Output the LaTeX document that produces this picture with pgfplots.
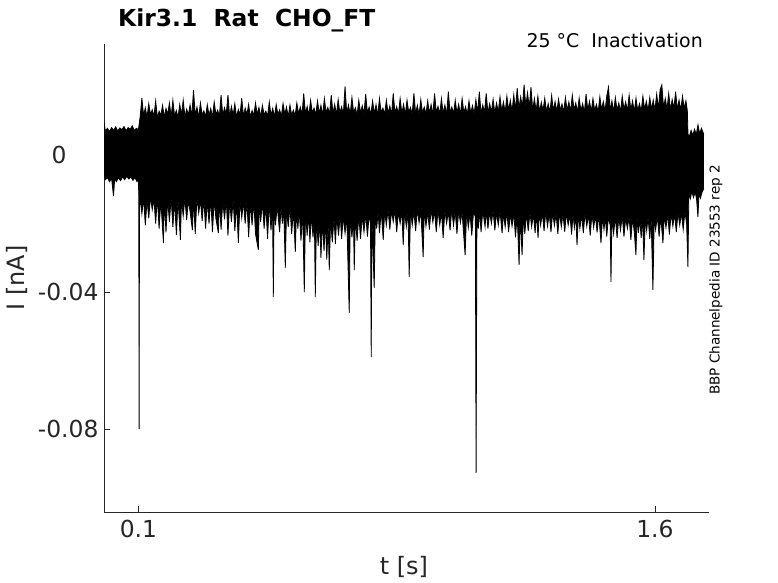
\documentclass[border=0pt]{standalone}
\usepackage{fontspec}
\setmainfont{DejaVu Sans}
\usepackage{pgfplots}
\pgfplotsset{compat=1.18}
\usepgfplotslibrary{fillbetween}
\definecolor{axgray}{HTML}{262626}
\begin{document}
\begin{tikzpicture}
\begin{axis}[
  at={(104bp,71bp)}, anchor=south west, scale only axis,
  width=605bp, height=468bp,
  xmin=0, xmax=1.757, ymin=-0.1042, ymax=0.0324,
  axis x line*=bottom, axis y line*=left,
  axis line style={axgray, line width=0.6bp},
  tick align=inside, major tick length=6bp,
  tick style={axgray, line width=0.6bp},
  xtick={0.1,1.6}, xticklabels={0.1,1.6},
  ytick={-0.08,-0.04,0}, yticklabels={-0.08,-0.04,{0\makebox[32bp]{}}},
  ticklabel style={font=\fontsize{23.5}{28}\selectfont, text=axgray},
  xticklabel style={yshift=-5bp},
  yticklabel style={xshift=-2bp},
]
\addplot[name path=up, black, line width=0.8bp] coordinates {
(0.000,0.0095)(0.004,0.0070)(0.010,0.0078)(0.016,0.0068)(0.022,0.0080)(0.028,0.0072)(0.034,0.0082)(0.040,0.0070)(0.046,0.0079)(0.052,0.0074)(0.058,0.0083)(0.064,0.0071)(0.070,0.0080)(0.076,0.0075)(0.082,0.0085)(0.088,0.0072)(0.094,0.0078)(0.100,0.0074)
(0.105,0.0112)(0.110,0.0166)(0.115,0.0115)(0.120,0.0138)(0.125,0.0110)(0.130,0.0150)(0.135,0.0118)(0.140,0.0132)(0.145,0.0113)(0.150,0.0158)
(0.155,0.0109)(0.160,0.0128)(0.165,0.0116)(0.170,0.0145)(0.175,0.0111)(0.180,0.0136)(0.185,0.0119)(0.190,0.0152)(0.195,0.0112)(0.200,0.0160)
(0.205,0.0114)(0.210,0.0130)(0.215,0.0110)(0.220,0.0148)(0.225,0.0117)(0.230,0.0160)(0.235,0.0112)(0.240,0.0134)(0.245,0.0118)(0.250,0.0146)
(0.255,0.0113)(0.260,0.0190)(0.265,0.0115)(0.270,0.0140)(0.275,0.0110)(0.280,0.0152)(0.285,0.0117)(0.290,0.0129)(0.295,0.0112)(0.300,0.0147)
(0.305,0.0116)(0.310,0.0136)(0.315,0.0111)(0.320,0.0155)(0.325,0.0118)(0.330,0.0131)(0.335,0.0113)(0.340,0.0175)(0.345,0.0115)(0.350,0.0138)
(0.355,0.0119)(0.360,0.0175)(0.365,0.0112)(0.370,0.0142)(0.375,0.0116)(0.380,0.0150)(0.385,0.0110)(0.390,0.0133)(0.395,0.0117)(0.400,0.0166)
(0.405,0.0113)(0.410,0.0137)(0.415,0.0118)(0.420,0.0148)(0.425,0.0111)(0.430,0.0130)(0.435,0.0115)(0.440,0.0152)(0.445,0.0119)(0.450,0.0139)
(0.455,0.0112)(0.460,0.0145)(0.465,0.0117)(0.470,0.0128)(0.475,0.0113)(0.480,0.0155)(0.485,0.0116)(0.490,0.0136)(0.495,0.0111)(0.500,0.0147)
(0.505,0.0118)(0.510,0.0132)(0.515,0.0114)(0.520,0.0150)(0.525,0.0119)(0.530,0.0140)(0.535,0.0112)(0.540,0.0146)(0.545,0.0117)(0.550,0.0131)
(0.555,0.0115)(0.560,0.0152)(0.565,0.0120)(0.570,0.0140)(0.575,0.0118)(0.580,0.0180)(0.585,0.0121)(0.590,0.0142)(0.595,0.0116)(0.600,0.0160)
(0.605,0.0123)(0.610,0.0137)(0.615,0.0118)(0.620,0.0158)(0.625,0.0122)(0.630,0.0145)(0.635,0.0116)(0.640,0.0165)(0.645,0.0124)(0.650,0.0139)
(0.655,0.0119)(0.660,0.0175)(0.665,0.0121)(0.670,0.0148)(0.675,0.0117)(0.680,0.0162)(0.685,0.0123)(0.690,0.0141)(0.695,0.0118)(0.700,0.0200)
(0.705,0.0122)(0.710,0.0146)(0.715,0.0119)(0.720,0.0168)(0.725,0.0124)(0.730,0.0138)(0.735,0.0117)(0.740,0.0160)(0.745,0.0122)(0.750,0.0144)
(0.755,0.0120)(0.760,0.0178)(0.765,0.0123)(0.770,0.0140)(0.775,0.0118)(0.780,0.0158)(0.785,0.0121)(0.790,0.0147)(0.795,0.0116)(0.800,0.0165)
(0.805,0.0124)(0.810,0.0137)(0.815,0.0119)(0.820,0.0160)(0.825,0.0122)(0.830,0.0143)(0.835,0.0117)(0.840,0.0180)(0.845,0.0123)(0.850,0.0141)
(0.855,0.0120)(0.860,0.0165)(0.865,0.0122)(0.870,0.0148)(0.875,0.0118)(0.880,0.0160)(0.885,0.0124)(0.890,0.0139)(0.895,0.0119)(0.900,0.0180)
(0.905,0.0121)(0.910,0.0145)(0.915,0.0117)(0.920,0.0162)(0.925,0.0123)(0.930,0.0140)(0.935,0.0120)(0.940,0.0158)(0.945,0.0122)(0.950,0.0147)
(0.955,0.0118)(0.960,0.0180)(0.965,0.0124)(0.970,0.0142)(0.975,0.0119)(0.980,0.0165)(0.985,0.0121)(0.990,0.0146)(0.995,0.0117)(1.000,0.0185)
(1.005,0.0123)(1.010,0.0140)(1.015,0.0120)(1.020,0.0160)(1.025,0.0122)(1.030,0.0148)(1.035,0.0118)(1.040,0.0165)(1.045,0.0124)(1.050,0.0141)
(1.055,0.0119)(1.060,0.0158)(1.065,0.0122)(1.070,0.0144)(1.075,0.0120)(1.080,0.0162)(1.085,0.0123)(1.090,0.0185)(1.095,0.0121)(1.100,0.0146)
(1.105,0.0124)(1.110,0.0180)(1.115,0.0122)(1.120,0.0150)(1.125,0.0125)(1.130,0.0163)(1.135,0.0123)(1.140,0.0152)(1.145,0.0126)(1.150,0.0170)
(1.155,0.0128)(1.160,0.0155)(1.165,0.0124)(1.170,0.0172)(1.175,0.0130)(1.180,0.0160)(1.185,0.0127)(1.190,0.0176)(1.195,0.0133)(1.200,0.0195)
(1.205,0.0136)(1.210,0.0170)(1.215,0.0140)(1.220,0.0205)(1.225,0.0142)(1.230,0.0182)(1.235,0.0138)(1.240,0.0198)(1.245,0.0132)(1.250,0.0165)
(1.255,0.0128)(1.260,0.0172)(1.265,0.0125)(1.270,0.0154)(1.275,0.0130)(1.280,0.0166)(1.285,0.0127)(1.290,0.0150)(1.295,0.0124)(1.300,0.0174)
(1.305,0.0129)(1.310,0.0156)(1.315,0.0126)(1.320,0.0163)(1.325,0.0131)(1.330,0.0149)(1.335,0.0125)(1.340,0.0168)(1.345,0.0130)(1.350,0.0155)
(1.355,0.0127)(1.360,0.0175)(1.365,0.0132)(1.370,0.0152)(1.375,0.0126)(1.380,0.0166)(1.385,0.0129)(1.390,0.0150)(1.395,0.0124)(1.400,0.0178)
(1.405,0.0131)(1.410,0.0157)(1.415,0.0127)(1.420,0.0165)(1.425,0.0130)(1.430,0.0148)(1.435,0.0125)(1.440,0.0170)(1.445,0.0132)(1.450,0.0156)
(1.455,0.0128)(1.460,0.0172)(1.465,0.0198)(1.470,0.0130)(1.475,0.0158)(1.480,0.0126)(1.485,0.0168)(1.490,0.0131)(1.495,0.0152)(1.500,0.0127)
(1.505,0.0172)(1.510,0.0133)(1.515,0.0155)(1.520,0.0128)(1.525,0.0175)(1.530,0.0132)(1.535,0.0158)(1.540,0.0126)(1.545,0.0166)(1.550,0.0130)
(1.555,0.0150)(1.560,0.0127)(1.565,0.0172)(1.570,0.0133)(1.575,0.0157)(1.580,0.0129)(1.585,0.0168)(1.590,0.0134)(1.595,0.0160)(1.600,0.0131)
(1.605,0.0178)(1.610,0.0136)(1.615,0.0190)(1.620,0.0205)(1.625,0.0138)(1.630,0.0165)(1.635,0.0134)(1.640,0.0180)(1.645,0.0132)(1.650,0.0162)
(1.655,0.0135)(1.660,0.0185)(1.665,0.0133)(1.670,0.0160)(1.675,0.0131)(1.680,0.0172)(1.685,0.0136)(1.690,0.0158)(1.694,0.0130)(1.696,0.0060)
(1.700,0.0055)(1.705,0.0072)(1.710,0.0058)(1.715,0.0075)(1.720,0.0060)(1.725,0.0088)(1.730,0.0062)(1.735,0.0078)(1.742,0.0060)
};
\addplot[name path=lo, black, line width=0.8bp] coordinates {
(0.000,-0.0060)(0.004,-0.0072)(0.010,-0.0066)(0.016,-0.0078)(0.022,-0.0068)(0.0276,-0.0120)(0.031,-0.0070)(0.036,-0.0078)(0.042,-0.0066)(0.048,-0.0075)
(0.054,-0.0064)(0.060,-0.0072)(0.066,-0.0062)(0.072,-0.0070)(0.078,-0.0064)(0.084,-0.0074)(0.090,-0.0066)(0.096,-0.0078)(0.100,-0.0070)
(0.1010,-0.0120)(0.1020,-0.0800)(0.1030,-0.0150)
(0.105,-0.0128)(0.110,-0.0172)(0.115,-0.0125)(0.120,-0.0205)(0.125,-0.0131)(0.130,-0.0185)(0.135,-0.0122)(0.140,-0.0160)(0.145,-0.0128)(0.150,-0.0200)
(0.155,-0.0124)(0.160,-0.0215)(0.165,-0.0133)(0.1726,-0.0257)(0.175,-0.0127)(0.180,-0.0226)(0.185,-0.0130)(0.190,-0.0195)(0.195,-0.0125)(0.200,-0.0210)
(0.205,-0.0134)(0.2103,-0.0234)(0.215,-0.0128)(0.2219,-0.0248)(0.225,-0.0131)(0.230,-0.0178)(0.235,-0.0126)(0.240,-0.0190)(0.245,-0.0133)(0.250,-0.0165)
(0.2567,-0.0219)(0.260,-0.0129)(0.265,-0.0230)(0.270,-0.0124)(0.275,-0.0170)(0.280,-0.0132)(0.285,-0.0192)(0.290,-0.0127)(0.295,-0.0215)(0.300,-0.0134)
(0.305,-0.0200)(0.310,-0.0128)(0.315,-0.0225)(0.320,-0.0131)(0.325,-0.0186)(0.3322,-0.0228)(0.335,-0.0130)(0.340,-0.0218)(0.345,-0.0135)(0.350,-0.0188)
(0.355,-0.0129)(0.360,-0.0235)(0.365,-0.0136)(0.370,-0.0195)(0.375,-0.0130)(0.380,-0.0222)(0.385,-0.0138)(0.3902,-0.0257)(0.395,-0.0132)(0.400,-0.0184)
(0.405,-0.0137)(0.410,-0.0200)(0.415,-0.0133)(0.420,-0.0240)(0.425,-0.0140)(0.430,-0.0205)(0.435,-0.0135)(0.440,-0.0230)(0.4482,-0.0277)(0.451,-0.0142)
(0.455,-0.0195)(0.460,-0.0138)(0.465,-0.0215)(0.470,-0.0145)(0.475,-0.0245)(0.480,-0.0140)(0.485,-0.0220)(0.4895,-0.0150)(0.4917,-0.0415)(0.494,-0.0150)
(0.498,-0.0205)(0.503,-0.0148)(0.510,-0.0225)(0.514,-0.0152)(0.518,-0.0200)(0.522,-0.0155)(0.5265,-0.0330)(0.530,-0.0158)(0.535,-0.0210)(0.540,-0.0152)
(0.545,-0.0230)(0.550,-0.0160)(0.5556,-0.0283)(0.559,-0.0158)(0.563,-0.0215)(0.567,-0.0162)(0.572,-0.0250)(0.577,-0.0165)(0.5817,-0.0400)(0.585,-0.0168)
(0.590,-0.0235)(0.594,-0.0170)(0.598,-0.0255)(0.602,-0.0175)(0.607,-0.0240)(0.611,-0.0180)(0.6136,-0.0415)(0.617,-0.0185)(0.622,-0.0265)(0.626,-0.0190)
(0.630,-0.0300)(0.634,-0.0195)(0.639,-0.0280)(0.643,-0.0192)(0.647,-0.0305)(0.651,-0.0200)(0.6542,-0.0336)(0.658,-0.0190)(0.663,-0.0255)(0.668,-0.0182)
(0.672,-0.0260)(0.676,-0.0178)(0.681,-0.0235)(0.686,-0.0175)(0.690,-0.0245)(0.695,-0.0180)(0.700,-0.0228)(0.705,-0.0178)(0.7122,-0.0461)(0.715,-0.0182)
(0.720,-0.0240)(0.7245,-0.0185)(0.7267,-0.0336)(0.730,-0.0180)(0.735,-0.0250)(0.740,-0.0176)(0.745,-0.0245)(0.750,-0.0178)(0.755,-0.0225)(0.760,-0.0172)
(0.765,-0.0238)(0.770,-0.0175)(0.774,-0.0200)(0.7760,-0.0590)(0.778,-0.0185)(0.7847,-0.0388)(0.788,-0.0170)(0.792,-0.0215)(0.796,-0.0165)(0.800,-0.0228)
(0.805,-0.0162)(0.8109,-0.0248)(0.815,-0.0165)(0.820,-0.0205)(0.825,-0.0158)(0.830,-0.0218)(0.835,-0.0163)(0.840,-0.0195)(0.845,-0.0160)(0.850,-0.0225)
(0.855,-0.0166)(0.860,-0.0200)(0.865,-0.0162)(0.8689,-0.0263)(0.873,-0.0164)(0.878,-0.0210)(0.883,-0.0167)(0.8863,-0.0356)(0.890,-0.0160)(0.895,-0.0205)
(0.900,-0.0165)(0.905,-0.0222)(0.910,-0.0158)(0.915,-0.0198)(0.920,-0.0163)(0.9269,-0.0298)(0.930,-0.0161)(0.935,-0.0208)(0.940,-0.0166)(0.945,-0.0218)
(0.950,-0.0159)(0.955,-0.0196)(0.960,-0.0164)(0.965,-0.0225)(0.970,-0.0160)(0.975,-0.0204)(0.980,-0.0167)(0.9849,-0.0242)(0.990,-0.0161)(0.995,-0.0200)
(1.000,-0.0165)(1.005,-0.0220)(1.010,-0.0158)(1.015,-0.0206)(1.020,-0.0164)(1.025,-0.0230)(1.030,-0.0162)(1.035,-0.0198)(1.040,-0.0168)(1.0487,-0.0292)
(1.053,-0.0165)(1.058,-0.0212)(1.063,-0.0170)(1.068,-0.0235)(1.073,-0.0168)(1.0785,-0.0180)(1.0806,-0.0928)(1.083,-0.0175)(1.087,-0.0215)(1.091,-0.0166)
(1.095,-0.0225)(1.100,-0.0163)(1.1067,-0.0210)(1.110,-0.0160)(1.115,-0.0215)(1.120,-0.0166)(1.125,-0.0200)(1.130,-0.0162)(1.135,-0.0220)(1.140,-0.0168)
(1.145,-0.0205)(1.150,-0.0164)(1.1561,-0.0228)(1.160,-0.0170)(1.165,-0.0210)(1.170,-0.0166)(1.175,-0.0225)(1.180,-0.0172)(1.185,-0.0208)(1.190,-0.0169)
(1.195,-0.0240)(1.200,-0.0175)(1.2054,-0.0321)(1.209,-0.0178)(1.2141,-0.0292)(1.218,-0.0176)(1.222,-0.0230)(1.227,-0.0170)(1.232,-0.0222)(1.237,-0.0168)
(1.242,-0.0210)(1.247,-0.0172)(1.252,-0.0228)(1.256,-0.0170)(1.2605,-0.0242)(1.264,-0.0166)(1.268,-0.0205)(1.273,-0.0170)(1.278,-0.0222)(1.283,-0.0165)
(1.288,-0.0208)(1.293,-0.0171)(1.298,-0.0225)(1.303,-0.0168)(1.308,-0.0206)(1.313,-0.0172)(1.318,-0.0230)(1.323,-0.0167)(1.328,-0.0210)(1.333,-0.0173)
(1.338,-0.0224)(1.343,-0.0169)(1.348,-0.0205)(1.353,-0.0174)(1.358,-0.0232)(1.362,-0.0172)(1.366,-0.0212)(1.370,-0.0175)(1.3737,-0.0263)(1.378,-0.0171)
(1.382,-0.0215)(1.387,-0.0176)(1.392,-0.0228)(1.397,-0.0170)(1.402,-0.0208)(1.407,-0.0174)(1.412,-0.0235)(1.417,-0.0172)(1.422,-0.0212)(1.427,-0.0177)
(1.432,-0.0226)(1.437,-0.0173)(1.4433,-0.0257)(1.448,-0.0178)(1.452,-0.0218)(1.456,-0.0180)(1.460,-0.0238)(1.465,-0.0182)(1.470,-0.0205)(1.4723,-0.0371)
(1.475,-0.0185)(1.480,-0.0230)(1.485,-0.0180)(1.490,-0.0242)(1.495,-0.0183)(1.500,-0.0220)(1.505,-0.0178)(1.510,-0.0238)(1.515,-0.0184)(1.520,-0.0215)
(1.525,-0.0181)(1.530,-0.0248)(1.535,-0.0185)(1.540,-0.0225)(1.5448,-0.0292)(1.548,-0.0182)(1.552,-0.0228)(1.556,-0.0186)(1.560,-0.0242)(1.564,-0.0183)
(1.5680,-0.0307)(1.572,-0.0185)(1.576,-0.0222)(1.580,-0.0180)(1.585,-0.0245)(1.589,-0.0184)(1.5941,-0.0394)(1.598,-0.0182)(1.602,-0.0218)(1.607,-0.0178)
(1.612,-0.0238)(1.617,-0.0181)(1.6232,-0.0257)(1.627,-0.0176)(1.632,-0.0212)(1.637,-0.0174)(1.642,-0.0232)(1.647,-0.0170)(1.652,-0.0208)(1.657,-0.0172)
(1.662,-0.0225)(1.667,-0.0168)(1.672,-0.0205)(1.677,-0.0170)(1.682,-0.0218)(1.687,-0.0166)(1.692,-0.0200)(1.6958,-0.0327)(1.6985,-0.0115)(1.703,-0.0128)
(1.707,-0.0106)(1.712,-0.0124)(1.717,-0.0108)(1.721,-0.0130)(1.7248,-0.0181)(1.728,-0.0112)(1.732,-0.0126)(1.737,-0.0108)(1.742,-0.0098)
};
\addplot[black] fill between[of=up and lo];
\end{axis}
\node[anchor=base west, inner sep=0pt, font=\bfseries\fontsize{23.5}{28}\selectfont] at (118bp,556bp) {Kir3.1\ \ Rat\ \ CHO\_FT};
\node[anchor=base east, inner sep=0pt, font=\fontsize{19}{23}\selectfont] at (703bp,535bp) {25 °C\ \ Inactivation};
\node[rotate=90, font=\fontsize{24}{28}\selectfont, text=axgray] at (17bp,305bp) {I [nA]};
\node[font=\fontsize{24}{28}\selectfont, text=axgray] at (404bp,16bp) {t [s]};
\node[rotate=90, font=\fontsize{13.6}{16}\selectfont] at (716bp,303bp) {BBP Channelpedia ID 23553 rep 2};
\path (0,0) rectangle (778bp,583bp);
\end{tikzpicture}
\end{document}
